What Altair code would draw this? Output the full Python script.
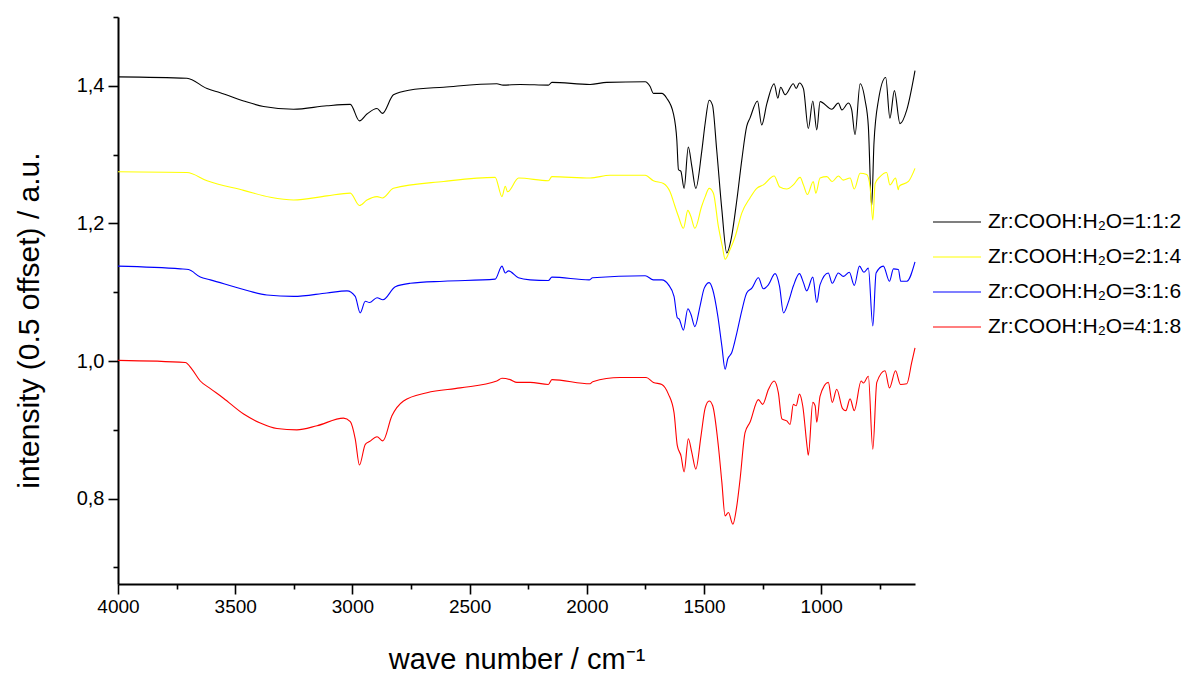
import altair as alt
import pandas as pd

labels = ["Zr:COOH:H\u2082O=1:1:2", "Zr:COOH:H\u2082O=2:1:4",
          "Zr:COOH:H\u2082O=3:1:6", "Zr:COOH:H\u2082O=4:1:8"]
colors = ["#000000", "#ffff00", "#0000ff", "#ff0000"]

black_wn = [4000, 3706, 3620, 3564, 3464, 3379, 3251, 3109, 3009, 2970,
            2938, 2895, 2872, 2825, 2753, 2611, 2384, 2357, 2284, 2164,
            2149, 1986, 1915, 1751, 1730, 1716, 1680, 1659, 1631, 1616,
            1609, 1599, 1585, 1567, 1552, 1535, 1510, 1495, 1478, 1464,
            1446, 1424, 1403, 1385, 1360, 1339, 1318, 1304, 1272, 1254,
            1232, 1201, 1185, 1173, 1154, 1119, 1107, 1093, 1076, 1055,
            1036, 1019, 1005, 955, 927, 912, 884, 870, 856, 834,
            813, 799, 785, 775, 756, 725, 707, 688, 664, 635, 600]
black_val = [1.413, 1.411, 1.396, 1.390, 1.378, 1.370, 1.366, 1.371, 1.373, 1.349,
             1.359, 1.367, 1.360, 1.387, 1.394, 1.398, 1.403, 1.401, 1.402, 1.401,
             1.405, 1.402, 1.405, 1.406, 1.399, 1.389, 1.389, 1.382, 1.360, 1.321,
             1.278, 1.276, 1.251, 1.311, 1.283, 1.251, 1.304, 1.346, 1.379, 1.372,
             1.307, 1.220, 1.157, 1.176, 1.234, 1.292, 1.341, 1.353, 1.378, 1.343,
             1.374, 1.403, 1.382, 1.398, 1.387, 1.403, 1.396, 1.404, 1.396, 1.338,
             1.378, 1.336, 1.377, 1.366, 1.375, 1.365, 1.375, 1.365, 1.329, 1.403,
             1.379, 1.341, 1.225, 1.317, 1.379, 1.412, 1.353, 1.393, 1.345, 1.365, 1.422]

yellow_wn = [4000, 3706, 3620, 3464, 3350, 3251, 3109, 3009, 2970, 2938,
             2895, 2872, 2825, 2611, 2391, 2362, 2348, 2338, 2291, 2164,
             2149, 1986, 1901, 1751, 1716, 1673, 1645, 1624, 1609, 1588,
             1569, 1556, 1539, 1510, 1495, 1478, 1460, 1439, 1422, 1410,
             1389, 1367, 1339, 1304, 1275, 1247, 1201, 1177, 1147, 1119,
             1090, 1076, 1059, 1034, 1023, 1005, 976, 953, 927, 906,
             877, 859, 834, 806, 792, 780, 770, 749, 721, 707,
             683, 671, 668, 628, 600]
yellow_val = [1.275, 1.274, 1.262, 1.248, 1.238, 1.234, 1.240, 1.244, 1.226, 1.234,
              1.239, 1.237, 1.251, 1.261, 1.267, 1.239, 1.254, 1.246, 1.266, 1.262,
              1.268, 1.266, 1.270, 1.270, 1.262, 1.258, 1.246, 1.225, 1.210, 1.193,
              1.219, 1.210, 1.193, 1.225, 1.239, 1.251, 1.244, 1.196, 1.167, 1.148,
              1.162, 1.181, 1.215, 1.237, 1.251, 1.256, 1.269, 1.253, 1.250, 1.256,
              1.267, 1.256, 1.242, 1.261, 1.244, 1.266, 1.268, 1.261, 1.269, 1.263,
              1.266, 1.250, 1.273, 1.271, 1.254, 1.205, 1.258, 1.268, 1.274, 1.256,
              1.266, 1.249, 1.254, 1.261, 1.280]

blue_wn = [4000, 3734, 3699, 3649, 3606, 3464, 3365, 3251, 3109, 3023,
           2988, 2967, 2945, 2927, 2895, 2870, 2817, 2753, 2611, 2391,
           2362, 2348, 2334, 2292, 2242, 2164, 2149, 1990, 1975, 1751,
           1716, 1680, 1652, 1628, 1614, 1606, 1588, 1569, 1556, 1539,
           1517, 1499, 1478, 1463, 1441, 1424, 1410, 1399, 1382, 1360,
           1339, 1318, 1296, 1268, 1247, 1225, 1197, 1178, 1161, 1140,
           1119, 1093, 1076, 1062, 1036, 1019, 1005, 970, 953, 927,
           906, 880, 859, 837, 818, 799, 780, 766, 735, 709,
           692, 671, 661, 635, 600]
blue_val = [1.138, 1.134, 1.133, 1.122, 1.118, 1.104, 1.096, 1.094, 1.099, 1.102,
            1.094, 1.070, 1.087, 1.085, 1.092, 1.089, 1.108, 1.113, 1.116, 1.119,
            1.138, 1.128, 1.131, 1.121, 1.118, 1.117, 1.122, 1.118, 1.121, 1.124,
            1.118, 1.118, 1.111, 1.094, 1.063, 1.061, 1.045, 1.076, 1.068, 1.050,
            1.080, 1.106, 1.114, 1.104, 1.065, 1.022, 0.988, 1.003, 1.012, 1.041,
            1.073, 1.099, 1.106, 1.121, 1.105, 1.111, 1.127, 1.109, 1.070, 1.086,
            1.109, 1.127, 1.114, 1.102, 1.122, 1.085, 1.111, 1.128, 1.113, 1.128,
            1.123, 1.129, 1.110, 1.138, 1.129, 1.135, 1.051, 1.128, 1.138, 1.116,
            1.134, 1.133, 1.116, 1.116, 1.144]

red_wn = [4000, 3713, 3684, 3649, 3606, 3550, 3464, 3393, 3322, 3237,
          3151, 3038, 3009, 2988, 2970, 2945, 2927, 2895, 2870, 2832,
          2782, 2682, 2540, 2384, 2362, 2327, 2298, 2242, 2164, 2149,
          1986, 1975, 1858, 1747, 1716, 1680, 1652, 1628, 1614, 1598,
          1585, 1567, 1552, 1535, 1513, 1495, 1478, 1463, 1439, 1424,
          1410, 1396, 1377, 1360, 1346, 1325, 1304, 1268, 1250, 1225,
          1201, 1183, 1168, 1147, 1133, 1119, 1107, 1093, 1079, 1059,
          1055, 1036, 1026, 1019, 1005, 970, 953, 934, 909, 895,
          877, 859, 830, 820, 799, 780, 763, 728, 709, 683,
          662, 635, 614, 600]
red_val = [1.001, 0.998, 0.988, 0.971, 0.960, 0.946, 0.923, 0.910, 0.902, 0.900,
           0.906, 0.917, 0.912, 0.887, 0.849, 0.879, 0.883, 0.890, 0.884, 0.920,
           0.942, 0.954, 0.961, 0.971, 0.975, 0.973, 0.969, 0.969, 0.966, 0.973,
           0.967, 0.970, 0.976, 0.976, 0.969, 0.966, 0.952, 0.925, 0.877, 0.862,
           0.839, 0.887, 0.867, 0.843, 0.891, 0.932, 0.942, 0.935, 0.877, 0.824,
           0.775, 0.780, 0.763, 0.790, 0.829, 0.896, 0.911, 0.944, 0.937, 0.959,
           0.971, 0.954, 0.916, 0.913, 0.908, 0.937, 0.935, 0.952, 0.935, 0.872,
           0.863, 0.940, 0.935, 0.911, 0.949, 0.969, 0.940, 0.959, 0.931, 0.928,
           0.945, 0.928, 0.971, 0.968, 0.978, 0.872, 0.969, 0.986, 0.961, 0.986,
           0.966, 0.967, 0.998, 1.019]

x_ticks = [4000, 3750, 3500, 3250, 3000, 2750, 2500, 2250, 2000, 1750,
           1500, 1250, 1000, 750]
y_ticks = [0.7, 0.8, 0.9, 1.0, 1.1, 1.2, 1.3, 1.4, 1.5]

series = [(black_wn, black_val), (yellow_wn, yellow_val),
          (blue_wn, blue_val), (red_wn, red_val)]
rows = []
for i, (wn, val) in enumerate(series):
    for w, v in zip(wn, val):
        rows.append({"wn": w, "val": v, "series": labels[i]})
df = pd.DataFrame(rows)

FONT = "Liberation Sans"

chart = alt.Chart(df).mark_line(strokeWidth=1.1, interpolate="monotone").encode(
    x=alt.X("wn:Q",
            scale=alt.Scale(domain=[600, 4000], reverse=True, nice=False, zero=False),
            axis=alt.Axis(
                title="wave number / cm\u207b\u00b9",
                values=x_ticks,
                format="d",
                labelExpr="datum.value % 500 === 0 ? datum.label : ''",
                tickSize={"condition": {"test": "datum.value % 500 === 0", "value": 10}, "value": 5},
                labelFontSize=19, titleFontSize=29, titleFontWeight="normal",
                labelPadding=3, titlePadding=29,
                labelFlush=False, labelOverlap=False,
            )),
    y=alt.Y("val:Q",
            scale=alt.Scale(domain=[0.676, 1.5], nice=False, zero=False),
            axis=alt.Axis(
                title="intensity (0.5 offset) / a.u.",
                values=y_ticks,
                labelExpr="round(datum.value*10) % 2 === 0 ? replace(format(datum.value, '.1f'), '.', ',') : ''",
                tickSize={"condition": {"test": "round(datum.value*10) % 2 === 0", "value": 10}, "value": 5},
                labelFontSize=20, titleFontSize=30, titleFontWeight="normal",
                labelPadding=4, titlePadding=32, titleY=303,
                labelFlush=False, labelOverlap=False,
            )),
    color=alt.Color("series:N",
                    scale=alt.Scale(domain=labels, range=colors),
                    legend=alt.Legend(
                        title=None, orient="none", legendX=814, legendY=180,
                        symbolType="stroke", symbolSize=2304, symbolStrokeWidth=1.2,
                        labelFontSize=21, labelFont=FONT, labelColor="#000000",
                        labelOffset=6, rowPadding=0, labelLimit=0,
                    )),
    detail="series:N",
).properties(
    width=797, height=567,
    autosize=alt.AutoSizeParams(type="none"),
    padding={"left": 118, "top": 17, "right": 279, "bottom": 98},
)

chart = chart.configure_view(stroke=None).configure_axis(
    labelFont=FONT, titleFont=FONT, labelColor="#000000", titleColor="#000000",
    domainColor="#000000", tickColor="#000000", domainWidth=2, tickWidth=1.6,
    grid=False,
)

chart.save("out.html", embed_options={"renderer": "svg", "actions": False})
